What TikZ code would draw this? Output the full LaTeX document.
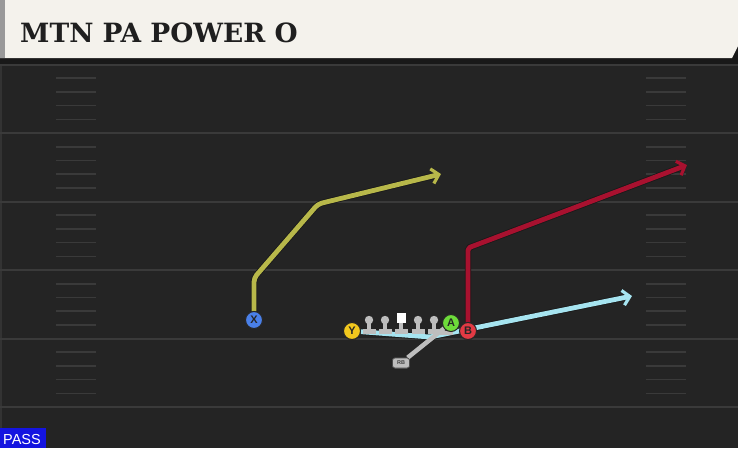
\documentclass[tikz,border=0pt]{standalone}
\usepackage{fontspec}
\setmainfont{DejaVu Serif}
\setsansfont{Liberation Sans}
\usetikzlibrary{arrows.meta}

\definecolor{header}{HTML}{F4F2EC}
\definecolor{turf}{HTML}{242424}
\definecolor{yardgray}{HTML}{3A3A3A}
\definecolor{linegray}{HTML}{BEBEBE}
\definecolor{xroute}{HTML}{B8B84A}
\definecolor{broute}{HTML}{A8112F}
\definecolor{yroute}{HTML}{A6E4F0}
\definecolor{xblue}{HTML}{4A80E8}
\definecolor{yyellow}{HTML}{F2C81E}
\definecolor{agreen}{HTML}{6DDB3A}
\definecolor{bred}{HTML}{E23A44}
\definecolor{passblue}{HTML}{1414E0}

\begin{document}
\begin{tikzpicture}
[x=1pt, y=-1pt,
player/.style={circle, draw=black!85, line width=1pt, minimum size=17pt, inner sep=0pt, font=\sffamily\bfseries\fontsize{11}{11}\selectfont, text=black!85},
back/.style={rectangle, rounded corners=2.5pt, draw=black!70, line width=0.7pt, fill=linegray, minimum width=17pt, minimum height=10pt, inner sep=0pt, font=\sffamily\bfseries\fontsize{5.5}{5.5}\selectfont, text=black!75},
route/.style={line width=4.8pt, line join=round, rounded corners=4pt, preaction={draw=black!90, line width=6.4pt}},
tip/.style={-{Straight Barb[length=7pt, width=15pt, line width=3.2pt]}},
yardline/.style={yardgray, line width=2pt},
hash/.style={yardgray, line width=1.6pt}]

\useasboundingbox (0,0) rectangle (738,448);

% field and header
\fill[turf] (0,58) rectangle (738,448);
\fill[black!90] (0,0) rectangle (738,64);
\fill[black!80] (0,64) rectangle (2,448);
\fill[header] (0,0) -- (738,0) -- (738,46) -- (732,58) -- (0,58) -- cycle;
\fill[black!40] (0,0) rectangle (5,58);
\node[anchor=base west, font=\bfseries\fontsize{26.5}{26.5}\selectfont, text=black!88, inner sep=0pt] (title) at (20,42) {MTN PA POWER O};

% yard lines and hashes
\foreach \k in {0,...,5} {
  \draw[yardline] (0,64.5+68.5*\k) -- (738,64.5+68.5*\k);
}
\foreach \k in {0,...,4} {
  \foreach \h in {1,...,4} {
    \draw[hash] (56,64.5+68.5*\k+13.7*\h) -- (96,64.5+68.5*\k+13.7*\h);
    \draw[hash] (646,64.5+68.5*\k+13.7*\h) -- (686,64.5+68.5*\k+13.7*\h);
  }
}

% players
\node[player, fill=xblue] (X) at (254,320) {X};
\node[player, fill=yyellow] (Y) at (352,331) {Y};
\node[player, fill=agreen] (A) at (451,323) {A};
\node[player, fill=bred] (B) at (468,331) {B};
\node[back] (RB) at (401,363) {RB};

\coordinate (xbreak) at (254,278);
\coordinate (xcut) at (318,204);
\coordinate (xend) at (441,174);
\coordinate (bbreak) at (468,248);
\coordinate (bend) at (687,165);
\coordinate (ydip) at (430,337);
\coordinate (yend) at (632,296);
\coordinate (mesh) at (447,326);

% routes
\draw[route, xroute, tip] (X) -- (xbreak) -- (xcut) -- (xend);
\draw[route, broute, tip, rounded corners=2pt] (B) -- (bbreak) -- (bend);
\draw[route, yroute, tip, rounded corners=2pt] (Y) -- (ydip) -- (yend);
\draw[linegray, line width=4.5pt] (RB) -- (mesh);

% line
\foreach \x in {369,385,418,434} {
  \fill[linegray] (\x,320) circle (4.2);
  \fill[linegray] (\x-1.8,320) rectangle (\x+1.8,329);
  \fill[linegray] (\x-6.5,328.5) rectangle (\x+6.5,333.5);
}
\fill[white] (396.5,313) rectangle (405.5,323);
\fill[linegray] (399.2,323) rectangle (402.8,329);
\fill[linegray] (394.5,328.5) rectangle (407.5,333.5);
\fill[linegray] (440,331) rectangle (453,335);

% redraw players on top
\node[player, fill=xblue] at (X) {X};
\node[player, fill=yyellow] at (Y) {Y};
\node[player, fill=agreen] at (A) {A};
\node[player, fill=bred] at (B) {B};
\node[back] at (RB) {RB};

% play type tag
\fill[passblue] (0,428) rectangle (46,448);
\node[anchor=base west, inner sep=0pt, font=\sffamily\fontsize{14.5}{14.5}\selectfont, text=white] (pass) at (3,444) {PASS};
\end{tikzpicture}
\end{document}
